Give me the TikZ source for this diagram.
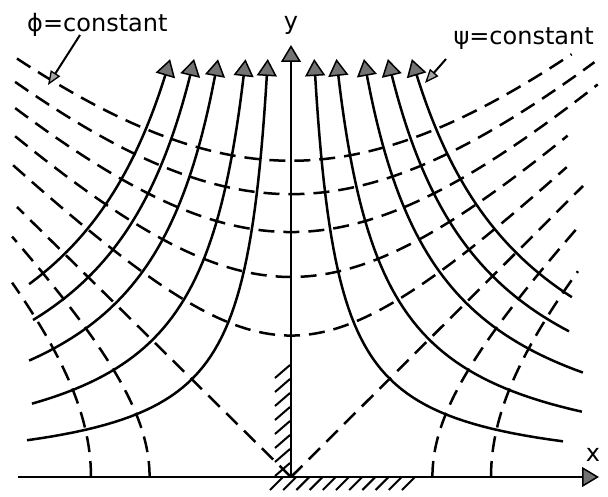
\documentclass[tikz,border=0pt]{standalone}
\usepackage{fontspec}
\setmainfont{DejaVu Sans}
\usetikzlibrary{arrows.meta}
\begin{document}
\begin{tikzpicture}[x=1pt,y=1pt,
  stream/.style={line width=2.5pt,line join=round},
  equi/.style={line width=2.5pt,dash pattern=on 16pt off 9pt},
  axis/.style={line width=2.5pt},
  hatch/.style={line width=2pt},
  endtip/.style={-{Triangle[width=20pt,length=17pt,fill=black!55,line width=1.5pt]}},
  starttip/.style={{Triangle[width=20pt,length=17pt,fill=black!55,line width=1.5pt]}-},
  leader/.style={line width=2pt,-{Triangle[width=11pt,length=14pt,fill=black!35,line width=1.3pt]}},
  lab/.style={font=\fontsize{24}{28}\selectfont,inner sep=0pt}
]
\useasboundingbox (-291,-19) rectangle (317,477);

% axes
\coordinate (O) at (0,0);
\coordinate (ytip) at (0,432);
\coordinate (xstart) at (-273,0);
\coordinate (xtip) at (308,0);
\draw[axis,endtip] (O) -- (ytip);
\draw[axis,endtip] (xstart) -- (xtip);
\node[lab] (ylab) at (0,452) {y};
\node[lab] (xlab) at (302,22) {x};

% hatching
\foreach \yy in {14,28,...,112}
  \draw[hatch] (-16,\yy-13) -- (-1,\yy);
\foreach \i in {0,...,10}
  \draw[hatch] ({-8+13.2*\i-13},-13) -- ({-8+13.2*\i},0);

% streamlines psi = xy = const (left: bottom-left to top; right: top to bottom-right)
\foreach \L/\sl/\tr in {9.180/3.604/5.606, 9.852/4.295/5.673, 10.325/4.757/5.677, 10.609/5.056/5.628, 10.830/5.262/5.638}{
  \draw[stream,endtip] plot[variable=\s,domain=\sl:6.0355,samples=50] ({-exp(\L-\s)},{exp(\s)});
  \draw[stream,starttip] plot[variable=\t,domain=\L-6.0355:\tr,samples=50] ({exp(\t)},{exp(\L-\t)});
}

% equipotentials phi = x^2 - y^2 = const (upper branches)
\foreach \a/\tl/\tr in {316.2/-0.784/0.800, 282.8/-0.864/0.933, 244.9/-0.968/1.050, 200.0/-1.126/1.129, 141.4/-1.428/1.422}{
  \draw[equi] plot[variable=\t,domain=\tl:\tr,samples=70] ({\a*(exp(\t)-exp(-\t))/2},{\a*(exp(\t)+exp(-\t))/2});
}
% phi = 0
\coordinate (dl) at (-274,270);
\coordinate (dr) at (292,291);
\draw[equi] (O) -- (dl);
\draw[equi] (O) -- (dr);
% side branches
\foreach \a/\tl/\tr in {141.4/1.301/1.334, 200.0/0.862/0.902}{
  \draw[equi] plot[variable=\t,domain=0:\tl,samples=50] ({-\a*(exp(\t)+exp(-\t))/2},{\a*(exp(\t)-exp(-\t))/2});
  \draw[equi] plot[variable=\t,domain=0:\tr,samples=50] ({\a*(exp(\t)+exp(-\t))/2},{\a*(exp(\t)-exp(-\t))/2});
}

% labels with leaders
\node[lab,anchor=west] (phi) at (-264,452) {ϕ=constant};
\node[lab,anchor=east] (psi) at (303,438) {ψ=constant};
\coordinate (phistart) at (-211,442);
\coordinate (phitip) at (-243,392);
\coordinate (psistart) at (155,418);
\coordinate (psitip) at (134,394);
\draw[leader] (phistart) -- (phitip);
\draw[leader] (psistart) -- (psitip);
\end{tikzpicture}
\end{document}
